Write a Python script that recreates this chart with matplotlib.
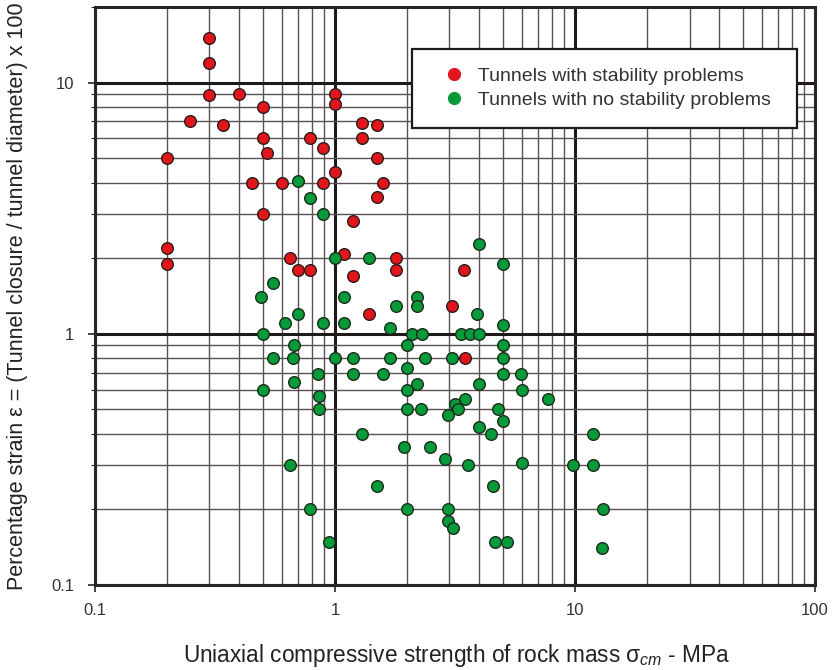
import numpy as np
import matplotlib
matplotlib.use('Agg')
import matplotlib.pyplot as plt
from matplotlib.lines import Line2D
from matplotlib.ticker import LogLocator, FixedLocator, NullFormatter

plt.rcParams['font.family'] = ['Liberation Sans', 'DejaVu Sans']
plt.rcParams['mathtext.fontset'] = 'custom'
plt.rcParams['mathtext.it'] = 'Liberation Sans:italic'
plt.rcParams['mathtext.rm'] = 'Liberation Sans'

# Tunnels with stability problems (sigma_cm [MPa], strain [%])
red_x = [0.2, 0.2, 0.2, 0.25, 0.3, 0.3, 0.3, 0.34, 0.4, 0.45,
         0.5, 0.5, 0.52, 0.5, 0.6, 0.65, 0.7, 0.79, 0.79, 0.89,
         0.89, 1.0, 1.0, 1.0, 1.09, 1.19, 1.19, 1.3, 1.3, 1.39,
         1.5, 1.5, 1.5, 1.58, 1.8, 1.8, 3.07, 3.45, 3.48]
red_y = [5.0, 2.2, 1.9, 7.0, 15.0, 12.0, 8.9, 6.8, 9.0, 4.0,
         8.0, 6.0, 5.25, 3.0, 4.0, 2.0, 1.8, 1.8, 6.0, 5.5,
         4.0, 9.0, 8.2, 4.4, 2.08, 2.8, 1.7, 6.9, 6.0, 1.2,
         6.75, 5.0, 3.5, 4.0, 2.0, 1.8, 1.29, 1.8, 0.8]

# Tunnels with no stability problems
green_x = [0.7, 0.79, 0.89, 1.0, 1.39, 0.55, 0.49, 1.09, 2.2, 2.2,
           1.8, 3.9, 0.7, 0.62, 0.89, 1.09, 1.69, 5.0, 0.5, 2.09,
           2.3, 3.35, 3.65, 4.0, 0.675, 2.0, 5.0, 0.55, 0.67, 1.0,
           1.19, 1.69, 2.38, 3.07, 5.0, 0.85, 1.19, 1.58, 2.0, 5.0,
           5.96, 0.675, 2.2, 4.0, 0.5, 2.0, 6.0, 0.86, 7.7, 3.48,
           3.16, 0.86, 2.0, 2.28, 3.25, 4.78, 2.96, 5.0, 4.0, 1.3,
           4.47, 11.9, 1.94, 2.49, 2.87, 0.65, 3.58, 6.0, 9.8, 11.9,
           1.5, 4.55, 0.79, 2.0, 2.96, 13.1, 2.96, 3.09, 0.94, 4.64,
           5.21, 13.0, 4.0, 5.0]
green_y = [4.07, 3.48, 3.0, 2.0, 2.0, 1.6, 1.4, 1.4, 1.4, 1.29,
           1.29, 1.2, 1.2, 1.1, 1.1, 1.1, 1.05, 1.08, 1.0, 1.0,
           1.0, 1.0, 1.0, 1.0, 0.9, 0.9, 0.9, 0.8, 0.8, 0.8,
           0.8, 0.8, 0.8, 0.8, 0.8, 0.69, 0.69, 0.69, 0.73, 0.69,
           0.69, 0.644, 0.63, 0.63, 0.6, 0.6, 0.6, 0.567, 0.55, 0.55,
           0.526, 0.5, 0.5, 0.5, 0.5, 0.5, 0.476, 0.45, 0.426, 0.4,
           0.4, 0.4, 0.355, 0.355, 0.318, 0.3, 0.3, 0.306, 0.3, 0.3,
           0.248, 0.248, 0.2, 0.2, 0.2, 0.2, 0.18, 0.169, 0.148, 0.148,
           0.148, 0.14, 2.28, 1.9]

x_ticks = [0.1, 1, 10, 100]
x_labels = ['0.1', '1', '10', '100']
y_ticks = [0.1, 1, 10]
y_labels = ['0.1', '1', '10']

red = '#e0161c'
green = '#079a3a'

fig = plt.figure(figsize=(8.39, 6.70), dpi=100)
ax = fig.add_axes([0.1132, 0.1269, 0.8582, 0.8627])

ax.set_xscale('log')
ax.set_yscale('log')
ax.set_xlim(0.1, 100)
ax.set_ylim(0.1, 20)

ax.xaxis.set_major_locator(FixedLocator(x_ticks))
ax.set_xticklabels(x_labels)
ax.yaxis.set_major_locator(FixedLocator(y_ticks))
ax.set_yticklabels(y_labels)
ax.xaxis.set_minor_locator(LogLocator(base=10, subs=np.arange(2, 10)))
ax.yaxis.set_minor_locator(LogLocator(base=10, subs=np.arange(2, 10)))
ax.xaxis.set_minor_formatter(NullFormatter())
ax.yaxis.set_minor_formatter(NullFormatter())

ax.grid(True, which='minor', color='#5a5252', lw=1.0)
ax.grid(True, which='major', color='#1e1a1a', lw=2.2)
ax.set_axisbelow(True)

for s in ax.spines.values():
    s.set_linewidth(2.2)
    s.set_color('#2a2424')

ax.tick_params(which='major', direction='out', length=5, width=1.2,
               labelsize=12, colors='#2a2424', labelcolor='#333333')
ax.tick_params(axis='x', which='major', pad=8)
ax.tick_params(axis='y', which='major', pad=10)
ax.tick_params(axis='x', which='minor', length=0)
ax.tick_params(axis='y', which='minor', direction='out', length=3,
               width=0.8, colors='#2a2424')

ax.scatter(red_x, red_y, s=70, c=red, edgecolors='#2b1a1a',
           linewidths=1.0, zorder=3)
ax.scatter(green_x, green_y, s=70, c=green, edgecolors='#1a2b1a',
           linewidths=1.0, zorder=3)

handles = [Line2D([], [], ls='none', marker='o', ms=8.5, mfc=red, mec=red),
           Line2D([], [], ls='none', marker='o', ms=8.5, mfc=green, mec=green)]
labels = ['Tunnels with stability problems',
          'Tunnels with no stability problems']
leg = ax.legend(handles, labels, loc='upper left',
                bbox_to_anchor=(0.4403, 0.7837, 0.5347, 0.1436), mode='expand',
                frameon=True, fancybox=False, fontsize=14,
                borderpad=0.95, handlelength=2.4, handletextpad=0.05,
                labelspacing=0.34, borderaxespad=0)
leg.get_frame().set_edgecolor('#1e1a1a')
leg.get_frame().set_linewidth(1.6)
leg.get_frame().set_alpha(1)
for t in leg.get_texts():
    t.set_color('#333333')

ax.set_xlabel('Uniaxial compressive strength of rock mass \u03c3$_{cm}$ - MPa',
              fontsize=16.3, color='#222222')
ax.xaxis.set_label_coords(0.502, -0.0986)
fig.text(18 / 839, 1 - 296 / 670,
         'Percentage strain \u03b5 = (Tunnel closure / tunnel diameter) x 100',
         rotation=90, ha='center', va='center', fontsize=15.5, color='#222222')

fig.savefig('out.png', dpi=100)
